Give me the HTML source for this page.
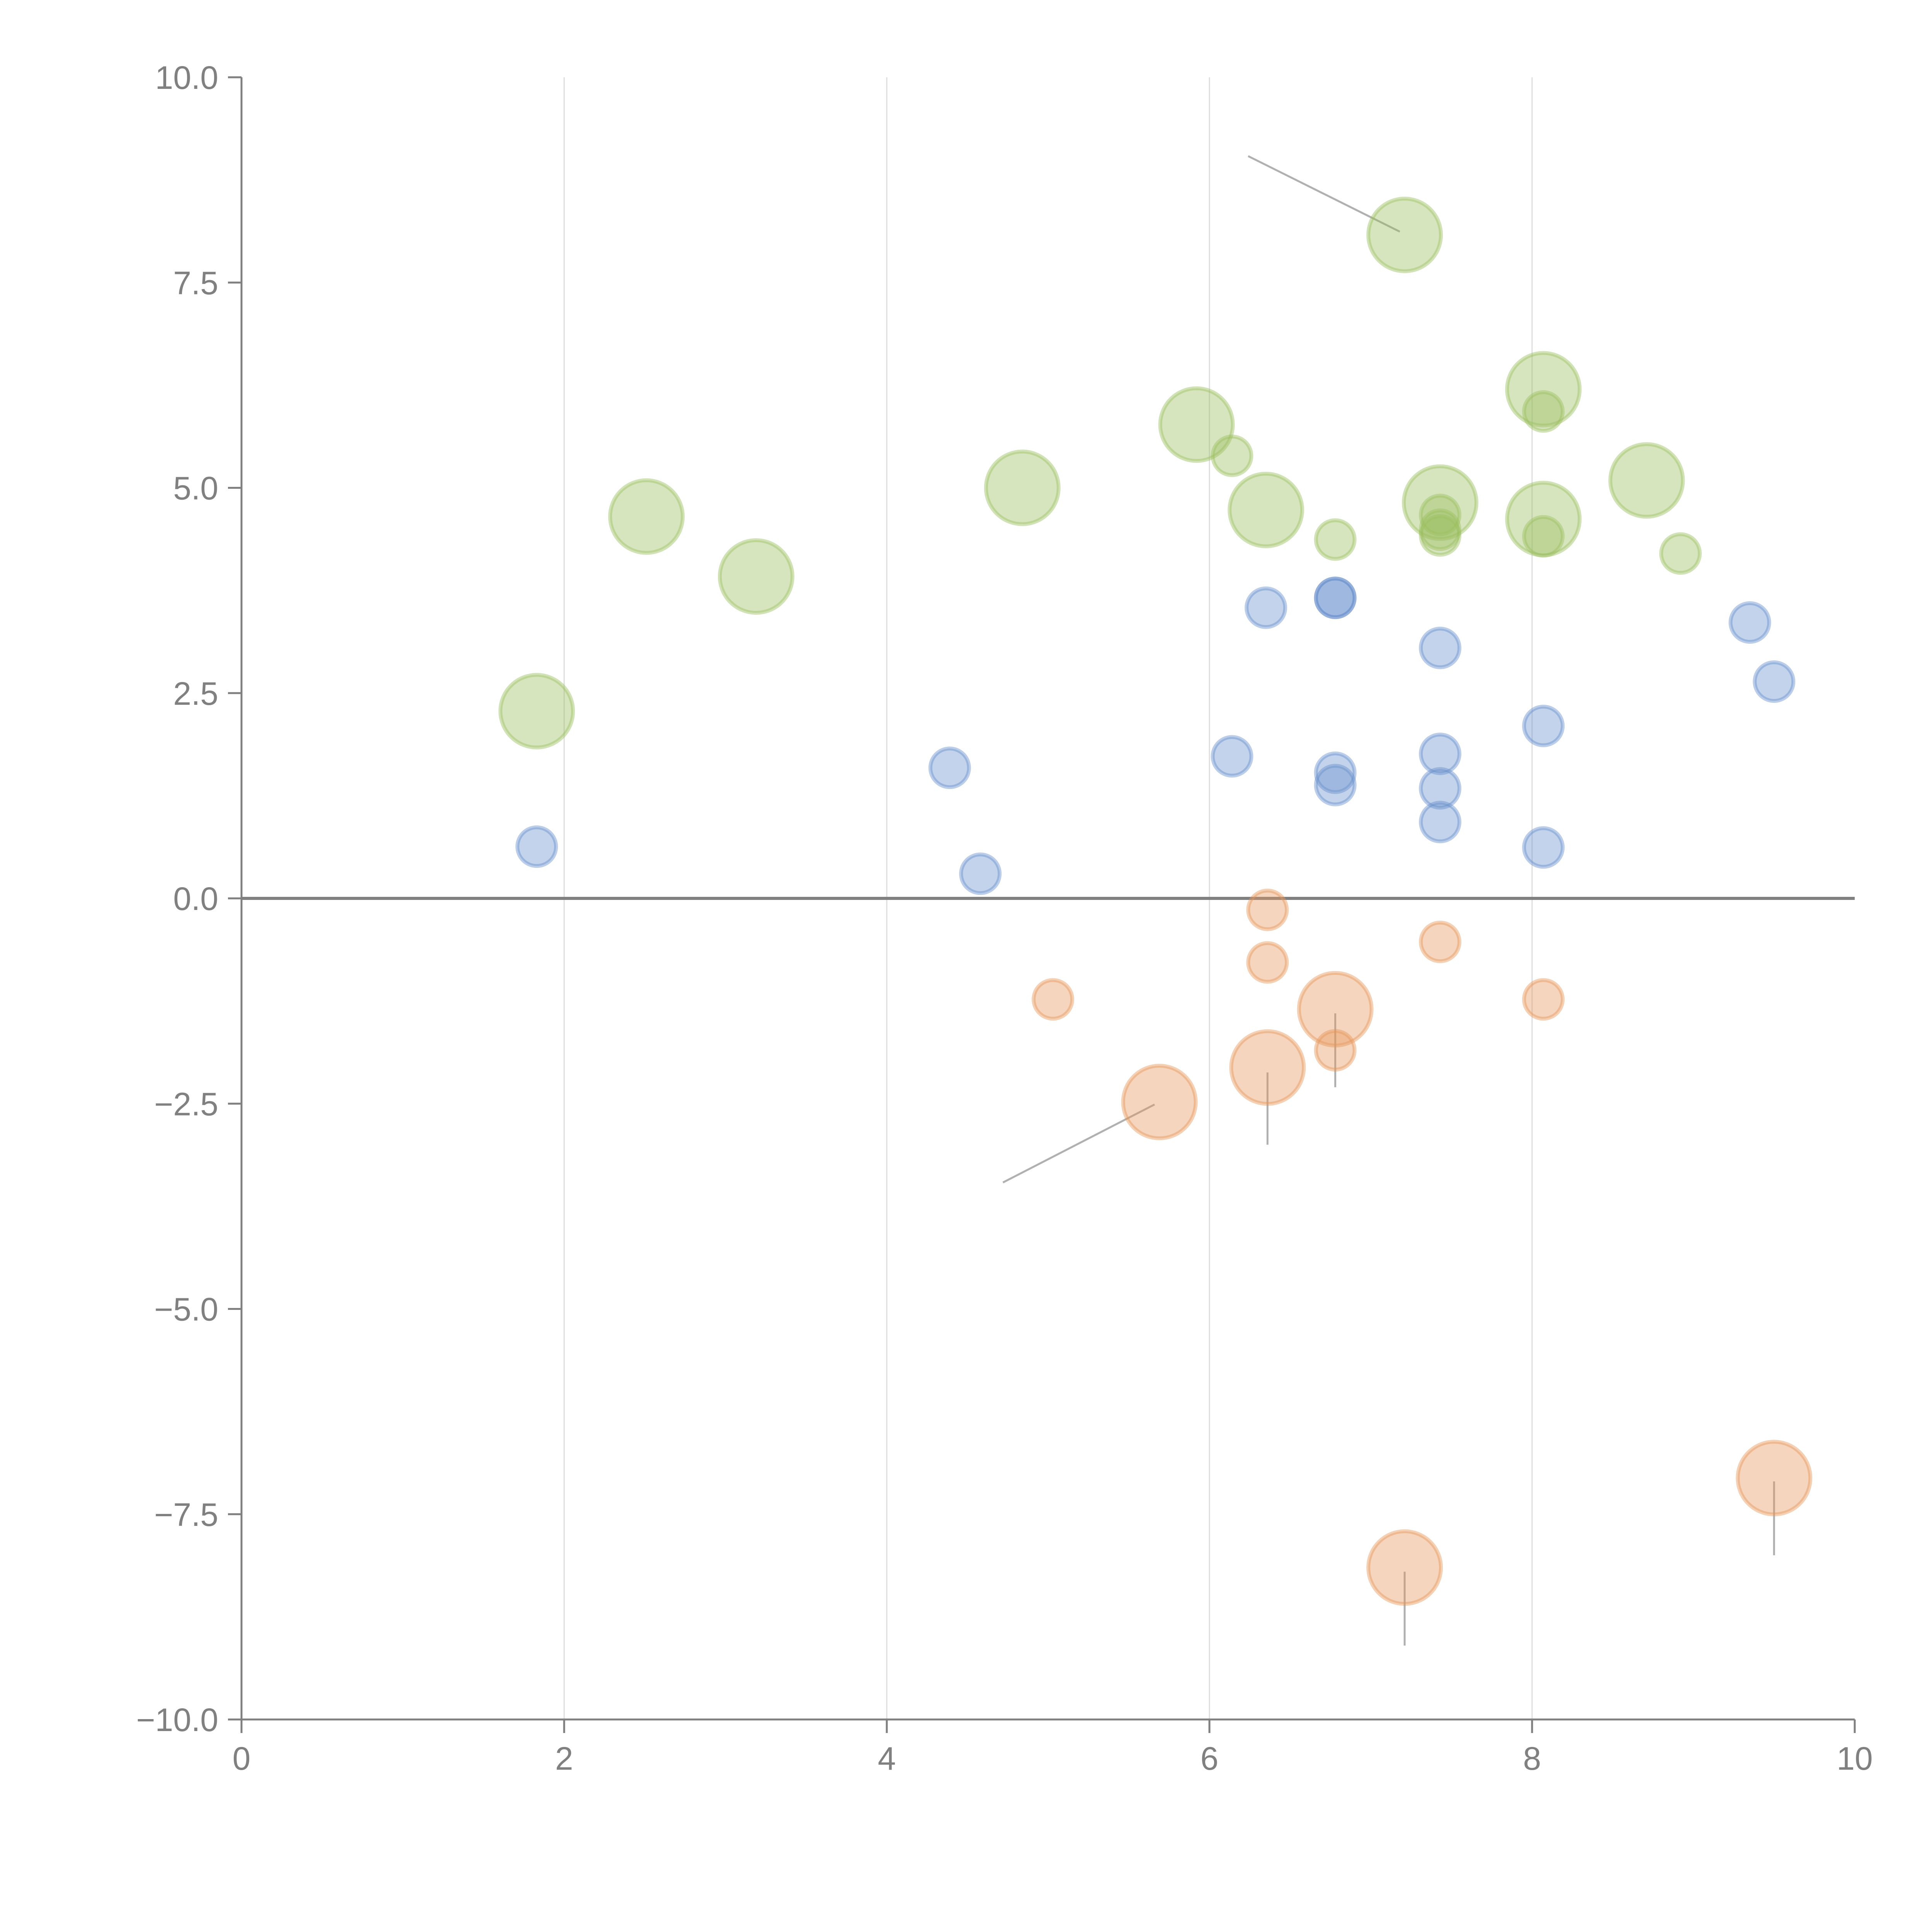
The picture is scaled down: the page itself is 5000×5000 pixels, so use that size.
<!DOCTYPE html>
<html><head><meta charset="utf-8"><style>
html,body{margin:0;padding:0;background:#fff;}
svg{display:block;}
text{font-family:"Liberation Sans",Arial,sans-serif;fill:#808080;}
</style></head><body>
<svg id="chart" width="5000" height="5000" viewBox="0 0 5000 5000" xmlns="http://www.w3.org/2000/svg"></svg>
<script>
const greenX=[1.83,2.51,3.19,4.84,5.92,6.14,6.35,6.78,7.21,7.43,7.43,7.43,7.43,8.07,8.07,8.07,8.07,8.71,8.92];
const greenY=[2.28,4.65,3.92,5.0,5.77,5.39,4.73,4.37,8.08,4.82,4.67,4.49,4.42,6.2,5.93,4.62,4.41,5.09,4.2];
const greenS=[2,2,2,2,2,1,2,1,2,2,1,1,1,2,1,2,1,2,1];
const blueX=[1.83,4.39,4.58,6.14,6.35,6.78,6.78,6.78,6.78,7.43,7.43,7.43,7.43,8.07,8.07,9.35,9.50];
const blueY=[0.63,1.59,0.30,1.73,3.54,3.66,3.66,1.53,1.38,3.05,1.76,1.34,0.93,2.10,0.62,3.36,2.64];
const orangeX=[5.03,5.69,6.36,6.36,6.36,6.78,6.78,7.43,8.07,7.21,9.50];
const orangeY=[-1.23,-2.48,-0.14,-0.78,-2.06,-1.35,-1.85,-0.53,-1.23,-8.15,-7.06];
const orangeS=[1,2,1,1,2,2,1,1,1,2,2];
const xTicks=[0,2,4,6,8,10];
const yTicks=[-10,-7.5,-5,-2.5,0,2.5,5,7.5,10];
// leader lines: [x1,y1,x2,y2] in data units
const leaders=[[6.24,9.04,7.18,8.12],[4.72,-3.46,5.66,-2.51],[6.36,-2.12,6.36,-3.0],[6.78,-1.4,6.78,-2.3],[7.21,-8.2,7.21,-9.1],[9.50,-7.1,9.50,-8.0]];

const svg=document.getElementById('chart');
const NS='http://www.w3.org/2000/svg';
const X0=625,X1=4800,Y0=200,Y1=4450;
const sx=v=>X0+(v-0)/(10-0)*(X1-X0);
const sy=v=>Y1-(v+10)/20*(Y1-Y0);
function mk(tag,attrs,parent){const e=document.createElementNS(NS,tag);for(const k in attrs)e.setAttribute(k,attrs[k]);(parent||svg).appendChild(e);return e;}

const grid=mk('g',{});


xTicks.forEach(t=>{if(t>0&&t<10){const l=mk('line',{x1:sx(t),x2:sx(t),y1:Y0,y2:Y1,stroke:'#dcdcdc','stroke-width':3},grid);

}});

const axes=mk('g',{stroke:'#808080','stroke-width':5,fill:'none'});


const ya=mk('line',{x1:X0,x2:X0,y1:Y0,y2:Y1},axes);


const xa=mk('line',{x1:X0,x2:X1,y1:Y1,y2:Y1},axes);


const zl=mk('line',{x1:X0,x2:X1,y1:sy(0),y2:sy(0),'stroke-width':8},axes);



xTicks.forEach(t=>{
 const l=mk('line',{x1:sx(t),x2:sx(t),y1:Y1,y2:Y1+35,stroke:'#808080','stroke-width':5});
 
 
 const tx=mk('text',{x:sx(t),y:Y1+130,'text-anchor':'middle','font-size':84});
 tx.textContent=String(t);
 
 
});
yTicks.forEach(t=>{
 const l=mk('line',{x1:X0-35,x2:X0,y1:sy(t),y2:sy(t),stroke:'#808080','stroke-width':5});
 
 
 const tx=mk('text',{x:X0-60,y:sy(t)+30,'text-anchor':'end','font-size':84});
 tx.textContent=(t<0?'\u2212':'')+Math.abs(t).toFixed(1);
 
 
});

leaders.forEach(d=>{
 const l=mk('line',{x1:sx(d[0]),y1:sy(d[1]),x2:sx(d[2]),y2:sy(d[3]),stroke:'#b0b0b0','stroke-width':5});
 
 
});

function series(xs,ys,ss,col,name){
 const g=mk('g',{});
 
 
 xs.forEach((x,i)=>{
  const r=(ss&&ss[i]===2)?94:50;
  const c=mk('circle',{cx:sx(x),cy:sy(ys[i]),r:r,fill:'rgba('+col+',0.4)',stroke:'rgba('+col+',0.45)','stroke-width':10},g);
  
  
 });
}
series(greenX,greenY,greenS,'155,191,95','green');
series(blueX,blueY,null,'105,145,205','blue');
series(orangeX,orangeY,orangeS,'230,150,90','orange');
</script>
</body></html>
